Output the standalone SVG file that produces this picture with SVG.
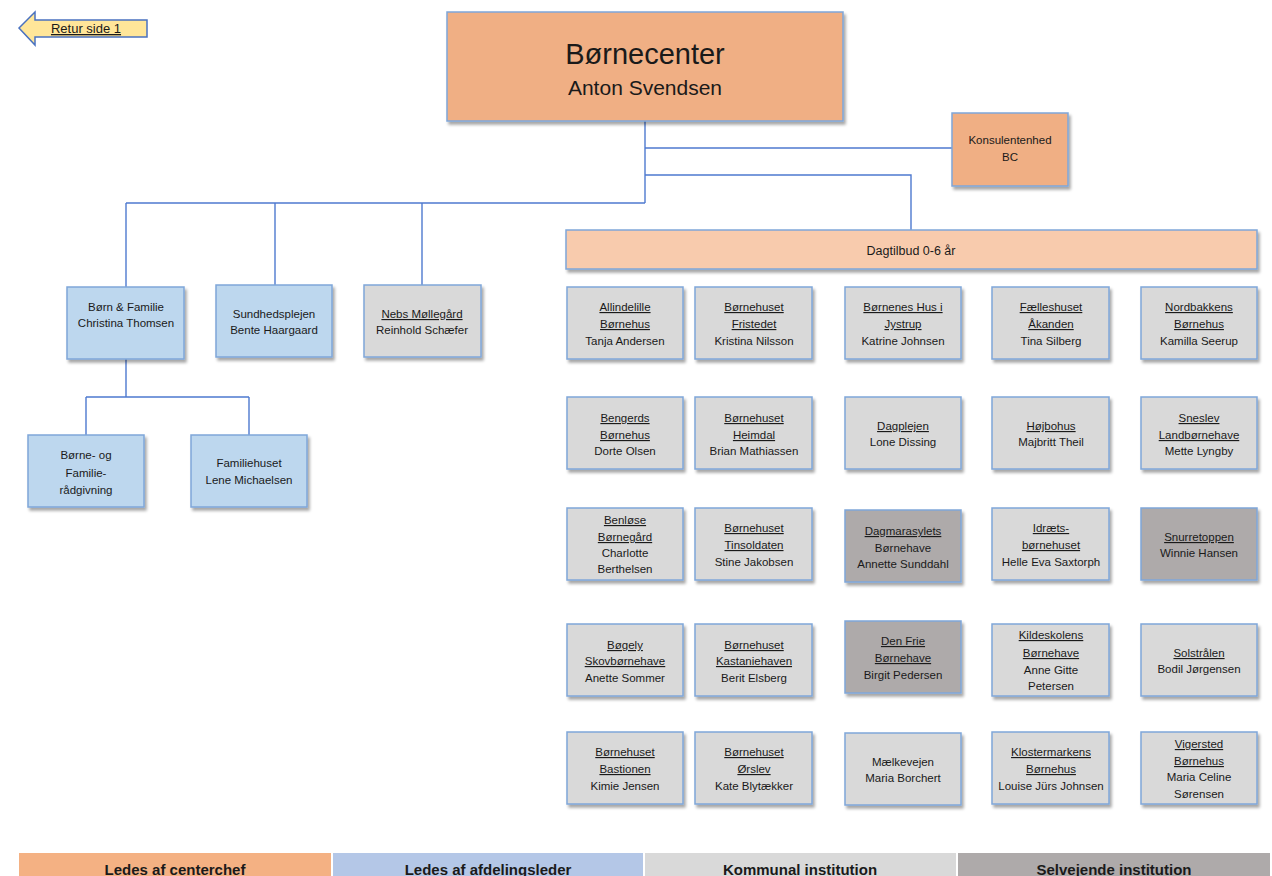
<svg xmlns="http://www.w3.org/2000/svg" width="1272" height="876" viewBox="0 0 1272 876">
<defs>
<filter id="sh" x="-10%" y="-10%" width="130%" height="140%">
<feDropShadow dx="2" dy="3" stdDeviation="1.5" flood-color="#000" flood-opacity="0.35"/>
</filter>
</defs>
<style>
text{font-family:"Liberation Sans",Arial,sans-serif;fill:#1a1a1a;text-anchor:middle}
.s{font-size:11.5px}
.u{text-decoration:underline}
.box{stroke:#7FA6D9;stroke-width:1.5;filter:url(#sh)}
.or{fill:#F0AF84}
.lo{fill:#F8CBAD}
.bl{fill:#BDD7EE}
.gr{fill:#D9D9D9}
.dg{fill:#AEAAAA}
.con{fill:none;stroke:#4E79CF;stroke-width:1.4}
.lg{font-size:15px;font-weight:bold}
</style>
<rect width="1272" height="876" fill="#fff"/>

<g id="retur">
<path d="M19,28 L35,12 L35,20 L147,20 L147,37 L35,37 L35,45 Z" fill="#FFE699" stroke="#4A72C0" stroke-width="1.5"/>
<text x="86" y="33" class="u" style="font-size:13px">Retur side 1</text>
</g>

<g id="connectors">
<path class="con" d="M645,121 V203"/>
<path class="con" d="M645,148 H952"/>
<path class="con" d="M645,175 H911 V230"/>
<path class="con" d="M126,203 H645"/>
<path class="con" d="M126,203 V287"/>
<path class="con" d="M275,203 V285"/>
<path class="con" d="M422,203 V285"/>
<path class="con" d="M126,359 V397 M86,397 H249 M86,397 V435 M249,397 V435"/>
</g>

<g id="borneceter">
<rect class="box or" x="447" y="12" width="396" height="109"/>
<text x="645" y="64" style="font-size:29px">Børnecenter</text>
<text x="645" y="95" style="font-size:21px">Anton Svendsen</text>
</g>

<g id="konsulentenhed">
<rect class="box or" x="952" y="113" width="116" height="73"/>
<text class="s" x="1010" y="144">Konsulentenhed</text>
<text class="s" x="1010" y="161">BC</text>
</g>

<g id="dagtilbud">
<rect class="box lo" x="566" y="230" width="691" height="39"/>
<text x="911" y="255" style="font-size:12.5px">Dagtilbud 0-6 år</text>
</g>

<g id="born-familie">
<rect class="box bl" x="67" y="287" width="117" height="72"/>
<text class="s" x="126" y="311">Børn &amp; Familie</text>
<text class="s" x="126" y="327">Christina Thomsen</text>
</g>
<g id="sundhedsplejen">
<rect class="box bl" x="216" y="285" width="116" height="72"/>
<text class="s" x="274" y="318">Sundhedsplejen</text>
<text class="s" x="274" y="334">Bente Haargaard</text>
</g>
<g id="nebs">
<rect class="box gr" x="364" y="285" width="117" height="72"/>
<text class="s u" x="422" y="318">Nebs Møllegård</text>
<text class="s" x="422" y="334">Reinhold Schæfer</text>
</g>
<g id="raadgivning">
<rect class="box bl" x="28" y="435" width="116" height="72"/>
<text class="s" x="86" y="459">Børne- og</text>
<text class="s" x="86" y="477">Familie-</text>
<text class="s" x="86" y="494">rådgivning</text>
</g>
<g id="familiehuset">
<rect class="box bl" x="191" y="435" width="116" height="72"/>
<text class="s" x="249" y="467">Familiehuset</text>
<text class="s" x="249" y="484">Lene Michaelsen</text>
</g>

<g id="allindelille"><rect class="box gr" x="567" y="287" width="116" height="72"/>
<text class="s u" x="625" y="311">Allindelille</text><text class="s u" x="625" y="328">Børnehus</text><text class="s" x="625" y="345">Tanja Andersen</text></g>
<g id="fristedet"><rect class="box gr" x="695" y="287" width="117" height="72"/>
<text class="s u" x="754" y="311">Børnehuset</text><text class="s u" x="754" y="328">Fristedet</text><text class="s" x="754" y="345">Kristina Nilsson</text></g>
<g id="jystrup"><rect class="box gr" x="845" y="287" width="116" height="72"/>
<text class="s u" x="903" y="311">Børnenes Hus i</text><text class="s u" x="903" y="328">Jystrup</text><text class="s" x="903" y="345">Katrine Johnsen</text></g>
<g id="aakanden"><rect class="box gr" x="992" y="287" width="117" height="72"/>
<text class="s u" x="1051" y="311">Fælleshuset</text><text class="s u" x="1051" y="328">Åkanden</text><text class="s" x="1051" y="345">Tina Silberg</text></g>
<g id="nordbakkens"><rect class="box gr" x="1141" y="287" width="116" height="72"/>
<text class="s u" x="1199" y="311">Nordbakkens</text><text class="s u" x="1199" y="328">Børnehus</text><text class="s" x="1199" y="345">Kamilla Seerup</text></g>

<g id="bengerds"><rect class="box gr" x="567" y="397" width="116" height="72"/>
<text class="s u" x="625" y="422">Bengerds</text><text class="s u" x="625" y="439">Børnehus</text><text class="s" x="625" y="455">Dorte Olsen</text></g>
<g id="heimdal"><rect class="box gr" x="695" y="397" width="117" height="72"/>
<text class="s u" x="754" y="422">Børnehuset</text><text class="s u" x="754" y="439">Heimdal</text><text class="s" x="754" y="455">Brian Mathiassen</text></g>
<g id="dagplejen"><rect class="box gr" x="845" y="397" width="116" height="72"/>
<text class="s u" x="903" y="430">Dagplejen</text><text class="s" x="903" y="446">Lone Dissing</text></g>
<g id="hojbohus"><rect class="box gr" x="992" y="397" width="117" height="72"/>
<text class="s u" x="1051" y="430">Højbohus</text><text class="s" x="1051" y="446">Majbritt Theil</text></g>
<g id="sneslev"><rect class="box gr" x="1141" y="397" width="116" height="72"/>
<text class="s u" x="1199" y="422">Sneslev</text><text class="s u" x="1199" y="439">Landbørnehave</text><text class="s" x="1199" y="455">Mette Lyngby</text></g>

<g id="benlose"><rect class="box gr" x="567" y="508" width="116" height="72"/>
<text class="s u" x="625" y="524">Benløse</text><text class="s u" x="625" y="541">Børnegård</text><text class="s" x="625" y="557">Charlotte</text><text class="s" x="625" y="573">Berthelsen</text></g>
<g id="tinsoldaten"><rect class="box gr" x="695" y="508" width="117" height="72"/>
<text class="s u" x="754" y="532">Børnehuset</text><text class="s u" x="754" y="549">Tinsoldaten</text><text class="s" x="754" y="566">Stine Jakobsen</text></g>
<g id="dagmarasylets"><rect class="box dg" x="845" y="510" width="116" height="72"/>
<text class="s u" x="903" y="535">Dagmarasylets</text><text class="s" x="903" y="552">Børnehave</text><text class="s" x="903" y="568">Annette Sunddahl</text></g>
<g id="idraets"><rect class="box gr" x="992" y="508" width="117" height="72"/>
<text class="s u" x="1051" y="532">Idræts-</text><text class="s u" x="1051" y="549">børnehuset</text><text class="s" x="1051" y="566">Helle Eva Saxtorph</text></g>
<g id="snurretoppen"><rect class="box dg" x="1141" y="508" width="116" height="72"/>
<text class="s u" x="1199" y="541">Snurretoppen</text><text class="s" x="1199" y="557">Winnie Hansen</text></g>

<g id="bogely"><rect class="box gr" x="567" y="624" width="116" height="72"/>
<text class="s u" x="625" y="649">Bøgely</text><text class="s u" x="625" y="665">Skovbørnehave</text><text class="s" x="625" y="682">Anette Sommer</text></g>
<g id="kastaniehaven"><rect class="box gr" x="695" y="624" width="117" height="72"/>
<text class="s u" x="754" y="649">Børnehuset</text><text class="s u" x="754" y="665">Kastaniehaven</text><text class="s" x="754" y="682">Berit Elsberg</text></g>
<g id="denfrie"><rect class="box dg" x="845" y="621" width="116" height="72"/>
<text class="s u" x="903" y="645">Den Frie</text><text class="s u" x="903" y="662">Børnehave</text><text class="s" x="903" y="679">Birgit Pedersen</text></g>
<g id="kildeskolens"><rect class="box gr" x="992" y="624" width="117" height="72"/>
<text class="s u" x="1051" y="639">Kildeskolens</text><text class="s u" x="1051" y="657">Børnehave</text><text class="s" x="1051" y="674">Anne Gitte</text><text class="s" x="1051" y="690">Petersen</text></g>
<g id="solstraalen"><rect class="box gr" x="1141" y="624" width="116" height="72"/>
<text class="s u" x="1199" y="657">Solstrålen</text><text class="s" x="1199" y="673">Bodil Jørgensen</text></g>

<g id="bastionen"><rect class="box gr" x="567" y="732" width="116" height="72"/>
<text class="s u" x="625" y="756">Børnehuset</text><text class="s u" x="625" y="773">Bastionen</text><text class="s" x="625" y="790">Kimie Jensen</text></g>
<g id="orslev"><rect class="box gr" x="695" y="732" width="117" height="72"/>
<text class="s u" x="754" y="756">Børnehuset</text><text class="s u" x="754" y="773">Ørslev</text><text class="s" x="754" y="790">Kate Blytækker</text></g>
<g id="maelkevejen"><rect class="box gr" x="845" y="733" width="116" height="72"/>
<text class="s" x="903" y="766">Mælkevejen</text><text class="s" x="903" y="782">Maria Borchert</text></g>
<g id="klostermarkens"><rect class="box gr" x="992" y="732" width="117" height="72"/>
<text class="s u" x="1051" y="756">Klostermarkens</text><text class="s u" x="1051" y="773">Børnehus</text><text class="s" x="1051" y="790">Louise Jürs Johnsen</text></g>
<g id="vigersted"><rect class="box gr" x="1141" y="732" width="116" height="72"/>
<text class="s u" x="1199" y="748">Vigersted</text><text class="s u" x="1199" y="765">Børnehus</text><text class="s" x="1199" y="781">Maria Celine</text><text class="s" x="1199" y="798">Sørensen</text></g>

<g id="legend">
<rect x="19" y="853" width="312" height="23" fill="#F4B183"/>
<rect x="333" y="853" width="310" height="23" fill="#B4C7E7"/>
<rect x="645" y="853" width="311" height="23" fill="#D9D9D9"/>
<rect x="958" y="853" width="312" height="23" fill="#AEAAAA"/>
<text class="lg" x="175" y="875">Ledes af centerchef</text>
<text class="lg" x="488" y="875">Ledes af afdelingsleder</text>
<text class="lg" x="800" y="875">Kommunal institution</text>
<text class="lg" x="1114" y="875">Selvejende institution</text>
</g>
</svg>
